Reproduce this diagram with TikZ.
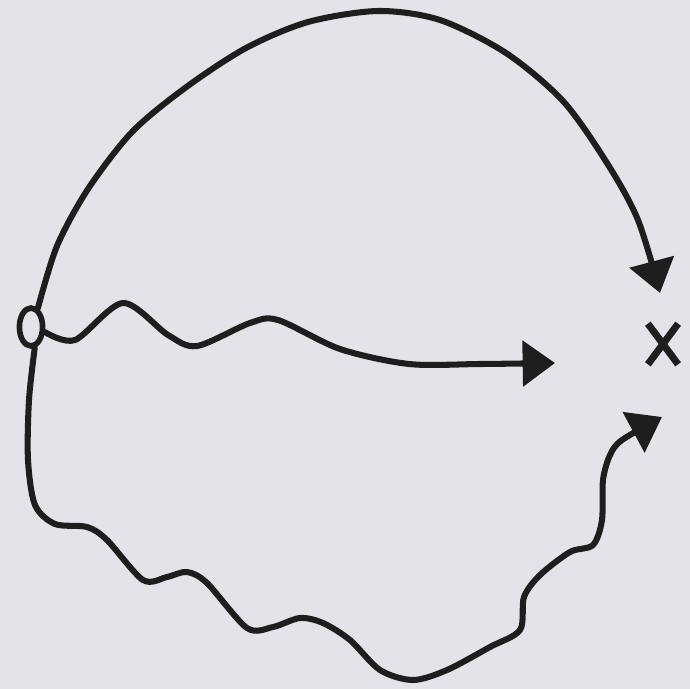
\documentclass[tikz,border=0pt]{standalone}
\usepackage{tikz}
\usetikzlibrary{arrows.meta,shapes.geometric,shapes.misc}
\definecolor{paper}{RGB}{228,227,231}
\definecolor{ink}{RGB}{30,30,30}

\begin{document}
\begin{tikzpicture}[x=0.25mm, y=-0.25mm,
    route/.style={ink, line width=4.3pt, line cap=round, line join=round,
                  -{Triangle[length=23pt, width=32pt]}},
    source/.style={ellipse, draw=ink, line width=4pt, inner sep=0pt,
                   minimum width=5.8mm, minimum height=9.5mm},
    target/.style={cross out, draw=ink, line width=5pt, inner sep=0pt,
                   minimum width=5.8mm, minimum height=8.4mm}]
    % paper
    \fill[paper] (0,0) rectangle (690,689);

    % start point and target
    \node[source] (src) at (31,327) {};
    \node[target] (tgt) at (663,344) {};

    % arrow tips (free ends)
    \coordinate (topend) at (660,293);
    \coordinate (midend) at (555,363);
    \coordinate (lowend) at (662,417);

    % upper arc
    \draw[route] plot[smooth] coordinates {(src.70) (57,246) (88,189) (132,132)
        (185,88) (246,48) (308,22) (378,11) (440,20) (506,53) (563,101)
        (607,163) (638,220) (topend)};

    % wavy middle path
    \draw[route] plot[smooth] coordinates {(src.-20) (75,340) (123,303)
        (168,335) (197,346) (250,323) (278,320) (340,349) (409,364)
        (480,364) (midend)};

    % wavy lower path
    \draw[route] plot[smooth] coordinates {(src.-80) (29,400) (28,460)
        (35,505) (55,524) (87,527) (107,540) (143,580) (167,577) (187,572)
        (207,583) (247,628) (273,627) (300,618) (323,623) (350,640)
        (380,670) (413,680) (447,670) (490,647) (520,630) (524,597)
        (540,575) (570,552) (593,545) (602,520) (603,480) (610,455)
        (622,440) (lowend)};
\end{tikzpicture}
\end{document}
